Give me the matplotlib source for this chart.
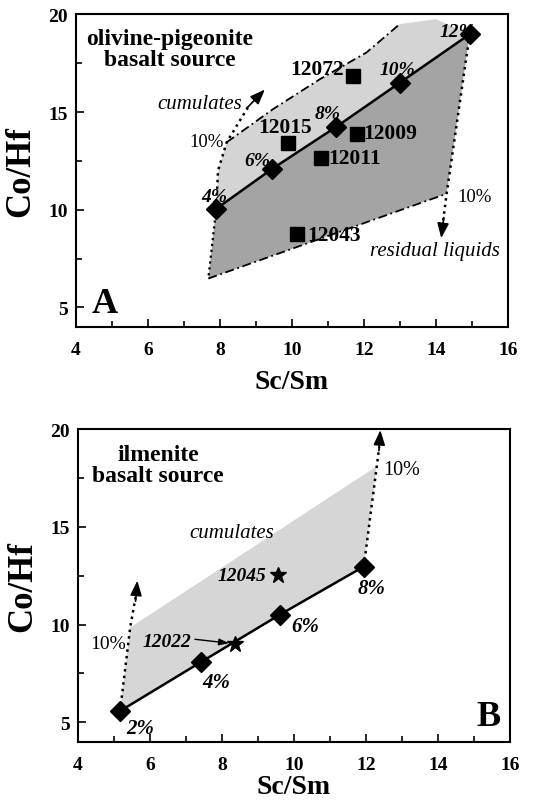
import matplotlib
matplotlib.use("Agg")
import matplotlib.pyplot as plt
from matplotlib.ticker import MultipleLocator

plt.rcParams['font.family'] = ['Liberation Serif', 'DejaVu Serif']

# ---- panel A: olivine-pigeonite basalt source ----
a_melt_x = [7.9, 9.46, 11.24, 13.0, 14.94]
a_melt_y = [10.05, 12.1, 14.25, 16.5, 18.98]
a_melt_lab = ["4%", "6%", "8%", "10%", "12%"]

a_samp_x = [11.7, 9.9, 11.8, 10.8, 10.13]
a_samp_y = [16.85, 13.4, 13.9, 12.64, 8.78]
a_samp_lab = ["12072", "12015", "12009", "12011", "12043"]

# cumulates field (upper boundary, dash-dot)
a_cum_x = [7.9, 7.95, 8.19, 9.48, 10.78, 12.07, 13.0, 14.0, 14.94]
a_cum_y = [10.05, 12.0, 13.45, 15.15, 16.68, 18.04, 19.5, 19.75, 18.98]
# residual liquid field corners
a_res_x = [7.9, 7.68, 14.3, 14.94]
a_res_y = [10.05, 6.48, 10.82, 18.98]

# ---- panel B: ilmenite basalt source ----
b_melt_x = [5.17, 7.43, 9.61, 11.94]
b_melt_y = [5.58, 8.1, 10.51, 12.97]
b_melt_lab = ["2%", "4%", "6%", "8%"]

b_star_x = [8.36, 9.56]
b_star_y = [9.0, 12.52]
b_star_lab = ["12022", "12045"]

b_cum_x = [5.17, 5.45, 12.3, 11.94]
b_cum_y = [5.58, 9.85, 18.1, 12.97]


def style_axes(ax, xpad):
    ax.set_xlim(4, 16)
    ax.set_ylim(4, 20)
    ax.xaxis.set_major_locator(MultipleLocator(2))
    ax.xaxis.set_minor_locator(MultipleLocator(1))
    ax.yaxis.set_major_locator(MultipleLocator(5))
    ax.yaxis.set_minor_locator(MultipleLocator(2.5))
    ax.tick_params(which='both', direction='in', top=False, right=False,
                   width=1.2, labelsize=14)
    ax.tick_params(which='major', length=6, pad=6)
    ax.tick_params(axis='x', which='major', pad=10)
    ax.tick_params(which='minor', length=4)
    for lab in ax.get_xticklabels() + ax.get_yticklabels():
        lab.set_fontweight('bold')
    for s in ax.spines.values():
        s.set_linewidth(1.5)
    ax.set_xlabel("Sc/Sm", fontsize=20, fontweight='bold', labelpad=xpad)
    ax.set_ylabel("Co/Hf", fontsize=25, fontweight='bold', labelpad=8)


def arrow_head(ax, x0, y0, x1, y1):
    ax.annotate("", xy=(x1, y1), xytext=(x0, y0),
                arrowprops=dict(arrowstyle='-|>,head_length=0.9,head_width=0.35',
                                color='k', lw=1.2, shrinkA=0, shrinkB=0))


fig = plt.figure(figsize=(5.34, 8.04), dpi=100)

# ================= A =================
axA = fig.add_axes([0.142, 0.592, 0.809, 0.389])
style_axes(axA, 8)

axA.fill(a_cum_x, a_cum_y, color='#d4d4d4', lw=0, zorder=1)
res_poly_x = a_res_x + a_melt_x[::-1][1:]
res_poly_y = a_res_y + a_melt_y[::-1][1:]
axA.fill(res_poly_x, res_poly_y, color='#a4a4a4', lw=0, zorder=1)

# boundaries
axA.plot(a_cum_x[2:7], a_cum_y[2:7], ls=(0, (5, 2, 1, 2)), color='k', lw=1.3, zorder=2)
axA.plot(a_res_x[1:3], a_res_y[1:3], ls=(0, (5, 2, 1, 2)), color='k', lw=1.3, zorder=2)
axA.plot(a_res_x[0:2], a_res_y[0:2], ls=':', color='k', lw=1.6, zorder=2)
axA.plot([a_res_x[3], a_res_x[2], 14.2], [a_res_y[3], a_res_y[2], 9.4],
         ls=':', color='k', lw=1.8, zorder=2)
axA.plot([a_cum_x[0], a_cum_x[1], a_cum_x[2], 8.8], [a_cum_y[0], a_cum_y[1], a_cum_y[2], 15.3],
         ls=':', color='k', lw=1.8, zorder=2)
arrow_head(axA, 8.75, 15.2, 9.25, 16.15)
arrow_head(axA, 14.22, 9.6, 14.15, 8.55)

axA.plot(a_melt_x, a_melt_y, '-', color='k', lw=1.8, zorder=3)
axA.plot(a_melt_x, a_melt_y, 'D', color='k', ms=10, zorder=4)
axA.plot(a_samp_x, a_samp_y, 's', color='k', ms=9.5, zorder=4)

pct_pos_A = [(7.86, 10.7), (9.03, 12.5), (11.0, 14.9), (12.92, 17.2), (14.61, 19.13)]
for (x, y), t in zip(pct_pos_A, a_melt_lab):
    axA.text(x, y, t, fontsize=14, fontweight='bold', style='italic',
             ha='center', va='center', zorder=5)

samp_pos_A = [(11.45, 17.2, 'right'), (9.81, 14.23, 'center'), (11.97, 13.93, 'left'),
              (11.0, 12.65, 'left'), (10.42, 8.72, 'left')]
for (x, y, ha), t in zip(samp_pos_A, a_samp_lab):
    axA.text(x, y, t, fontsize=15.5, fontweight='bold', ha=ha, va='center', zorder=5)

axA.text(6.61, 18.2, "olivine-pigeonite\nbasalt source", fontsize=17, fontweight='bold',
         ha='center', va='center', linespacing=1.0)
axA.text(7.44, 15.41, "cumulates", fontsize=15, style='italic', ha='center', va='center')
axA.text(7.64, 13.47, "10%", fontsize=13.5, ha='center', va='center')
axA.text(15.08, 10.66, "10%", fontsize=13.5, ha='center', va='center')
axA.text(13.97, 7.9, "residual liquids", fontsize=15, style='italic', ha='center', va='center')
axA.text(4.8, 5.2, "A", fontsize=26, fontweight='bold', ha='center', va='center')

# ================= B =================
axB = fig.add_axes([0.146, 0.076, 0.809, 0.389])
style_axes(axB, 1)

cum_poly_x = b_cum_x + b_melt_x[::-1][1:]
cum_poly_y = b_cum_y + b_melt_y[::-1][1:]
axB.fill(cum_poly_x, cum_poly_y, color='#d6d6d6', lw=0, zorder=1)

axB.plot([b_cum_x[0], b_cum_x[1], 5.6], [b_cum_y[0], b_cum_y[1], 11.4],
         ls=':', color='k', lw=1.8, zorder=2)
axB.plot([b_cum_x[3], b_cum_x[2], 12.37], [b_cum_y[3], b_cum_y[2], 19.1],
         ls=':', color='k', lw=1.8, zorder=2)
arrow_head(axB, 5.6, 11.2, 5.65, 12.25)
arrow_head(axB, 12.36, 18.9, 12.4, 19.95)

axB.plot(b_melt_x, b_melt_y, '-', color='k', lw=1.8, zorder=3)
axB.plot(b_melt_x, b_melt_y, 'D', color='k', ms=10, zorder=4)
axB.plot(b_star_x, b_star_y, '*', color='k', ms=12, zorder=4)

pct_pos_B = [(5.72, 4.69), (7.85, 7.08), (10.3, 9.91), (12.16, 11.87)]
for (x, y), t in zip(pct_pos_B, b_melt_lab):
    axB.text(x, y, t, fontsize=15, fontweight='bold', style='italic',
             ha='center', va='center', zorder=5)

axB.text(7.16, 9.12, b_star_lab[0], fontsize=14, fontweight='bold', style='italic',
         ha='right', va='center', zorder=5)
axB.text(9.24, 12.52, b_star_lab[1], fontsize=14, fontweight='bold', style='italic',
         ha='right', va='center', zorder=5)
axB.annotate("", xy=(8.2, 9.05), xytext=(7.25, 9.25),
             arrowprops=dict(arrowstyle='-|>,head_length=0.6,head_width=0.2',
                             color='k', lw=1.0, shrinkA=0, shrinkB=0))

axB.text(6.22, 18.19, "ilmenite\nbasalt source", fontsize=17, fontweight='bold',
         ha='center', va='center', linespacing=1.0)
axB.text(8.27, 14.73, "cumulates", fontsize=15, style='italic', ha='center', va='center')
axB.text(4.83, 9.03, "10%", fontsize=14, ha='center', va='center')
axB.text(12.99, 17.96, "10%", fontsize=14.5, ha='center', va='center')
axB.text(15.39, 5.31, "B", fontsize=26, fontweight='bold', ha='center', va='center')

plt.savefig("out.png", dpi=100)
